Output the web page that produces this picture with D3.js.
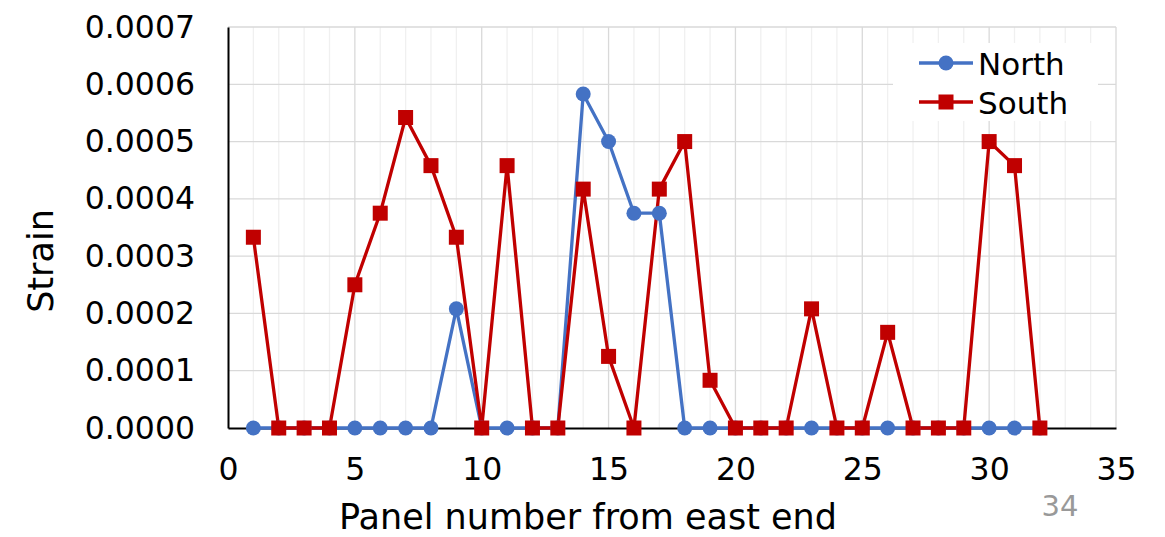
<!DOCTYPE html>
<html>
<head>
<meta charset="utf-8">
<script src="https://cdn.jsdelivr.net/npm/d3@7"></script>
<style>
  html, body { margin: 0; padding: 0; background: #fff; }
  svg { display: block; font-family: Verdana, "DejaVu Sans", sans-serif; }
</style>
</head>
<body>
<svg id="chart" width="1165" height="537"></svg>
<script>
// Panel numbers along the span
const panels = d3.range(1, 33);

// Measured strain per panel
const northStrain = [
  0, 0, 0, 0, 0, 0, 0, 0, 0.000208, 0,
  0, 0, 0, 0.000583, 0.0005, 0.000375, 0.000375, 0, 0, 0,
  0, 0, 0, 0, 0, 0, 0, 0, 0, 0,
  0, 0
];
const southStrain = [
  0.000333, 0, 0, 0, 0.00025, 0.000375, 0.000542, 0.000458, 0.000333, 0,
  0.000458, 0, 0, 0.000417, 0.000125, 0, 0.000417, 0.0005, 0.0000833, 0,
  0, 0, 0.000208, 0, 0, 0.000167, 0, 0, 0, 0.0005,
  0.000458, 0
];

const xTicks = [0, 5, 10, 15, 20, 25, 30, 35];
const yTicks = [0, 0.0001, 0.0002, 0.0003, 0.0004, 0.0005, 0.0006, 0.0007];

const seriesNames = ["North", "South"];
const seriesColors = ["#4472C4", "#C00000"];

const svg = d3.select("#chart");
const plotLeft = 228, plotRight = 1116, plotTop = 27, plotBottom = 428;
const fontStack = "Verdana, 'DejaVu Sans', sans-serif";

const x = d3.scaleLinear().domain([0, 35]).range([plotLeft, plotRight]);
const y = d3.scaleLinear().domain([0, 0.0007]).range([plotBottom, plotTop]);

// Minor vertical gridlines at each panel
svg.append("g")
  .selectAll("line")
  .data(d3.range(1, 36).filter(v => v % 5 !== 0))
  .join("line")
  .attr("x1", d => x(d)).attr("x2", d => x(d))
  .attr("y1", plotTop).attr("y2", plotBottom)
  .attr("stroke", "#f0f0f0").attr("stroke-width", 1.3);

// Major gridlines
svg.append("g")
  .selectAll("line")
  .data(xTicks.filter(v => v > 0))
  .join("line")
  .attr("x1", d => x(d)).attr("x2", d => x(d))
  .attr("y1", plotTop).attr("y2", plotBottom)
  .attr("stroke", "#d9d9d9").attr("stroke-width", 1.3);

svg.append("g")
  .selectAll("line")
  .data(yTicks.filter(v => v > 0))
  .join("line")
  .attr("x1", plotLeft).attr("x2", plotRight)
  .attr("y1", d => y(d)).attr("y2", d => y(d))
  .attr("stroke", "#d9d9d9").attr("stroke-width", 1.3);

// Axes
const xAxis = svg.append("g")
  .attr("transform", `translate(0,${plotBottom})`)
  .call(d3.axisBottom(x).tickValues(xTicks).tickSize(0).tickPadding(30).tickFormat(d3.format("d")));
xAxis.select(".domain").attr("stroke", "#000").attr("stroke-width", 2);
xAxis.selectAll("text").attr("font-size", 31.5).attr("fill", "#000")
  .attr("font-family", fontStack);

const yAxis = svg.append("g")
  .attr("transform", `translate(${plotLeft},0)`)
  .call(d3.axisLeft(y).tickValues(yTicks).tickSize(0).tickPadding(33).tickFormat(d3.format(".4f")));
yAxis.select(".domain").attr("stroke", "#000").attr("stroke-width", 2);
yAxis.selectAll("text").attr("font-size", 31.5).attr("fill", "#000")
  .attr("font-family", fontStack);

// Axis titles
svg.append("text")
  .attr("x", 588).attr("y", 529)
  .attr("text-anchor", "middle")
  .attr("font-size", 35)
  .text("Panel number from east end");

svg.append("text")
  .attr("transform", "translate(53,261) rotate(-90)")
  .attr("text-anchor", "middle")
  .attr("font-size", 35)
  .text("Strain");

// Page number
svg.append("text")
  .attr("x", 1060).attr("y", 516)
  .attr("text-anchor", "middle")
  .attr("font-size", 29)
  .attr("fill", "#999")
  .text("34");

// Series
const series = [northStrain, southStrain].map((vals, i) => ({
  name: seriesNames[i],
  color: seriesColors[i],
  points: panels.map((p, j) => ({ p, v: vals[j] }))
}));

const line = d3.line().x(d => x(d.p)).y(d => y(d.v));

svg.append("g").selectAll("path")
  .data(series)
  .join("path")
  .attr("d", d => line(d.points))
  .attr("fill", "none")
  .attr("stroke", d => d.color)
  .attr("stroke-width", 3.3)
  .attr("stroke-linejoin", "round");

// North markers
svg.append("g").selectAll("circle")
  .data(series[0].points)
  .join("circle")
  .attr("cx", d => x(d.p)).attr("cy", d => y(d.v))
  .attr("r", 7.5)
  .attr("fill", seriesColors[0]);

// South markers
const sq = 15;
svg.append("g").selectAll("rect")
  .data(series[1].points)
  .join("rect")
  .attr("x", d => x(d.p) - sq / 2).attr("y", d => y(d.v) - sq / 2)
  .attr("width", sq).attr("height", sq)
  .attr("fill", seriesColors[1]);

// Legend
const legend = svg.append("g");
legend.append("rect")
  .attr("x", 893).attr("y", 43).attr("width", 205).attr("height", 78)
  .attr("fill", "#fff");
seriesNames.forEach((name, i) => {
  const ly = 63 + i * 39;
  const g = legend.append("g");
  g.append("line")
    .attr("x1", 919).attr("x2", 973).attr("y1", ly).attr("y2", ly)
    .attr("stroke", seriesColors[i]).attr("stroke-width", 3.3);
  if (i === 0) {
    g.append("circle").attr("cx", 946).attr("cy", ly).attr("r", 7.5).attr("fill", seriesColors[i]);
  } else {
    g.append("rect").attr("x", 946 - sq / 2).attr("y", ly - sq / 2)
      .attr("width", sq).attr("height", sq).attr("fill", seriesColors[i]);
  }
  g.append("text")
    .attr("x", 978).attr("y", ly + 12)
    .attr("font-size", 31)
    .text(name);
});
</script>
</body>
</html>
